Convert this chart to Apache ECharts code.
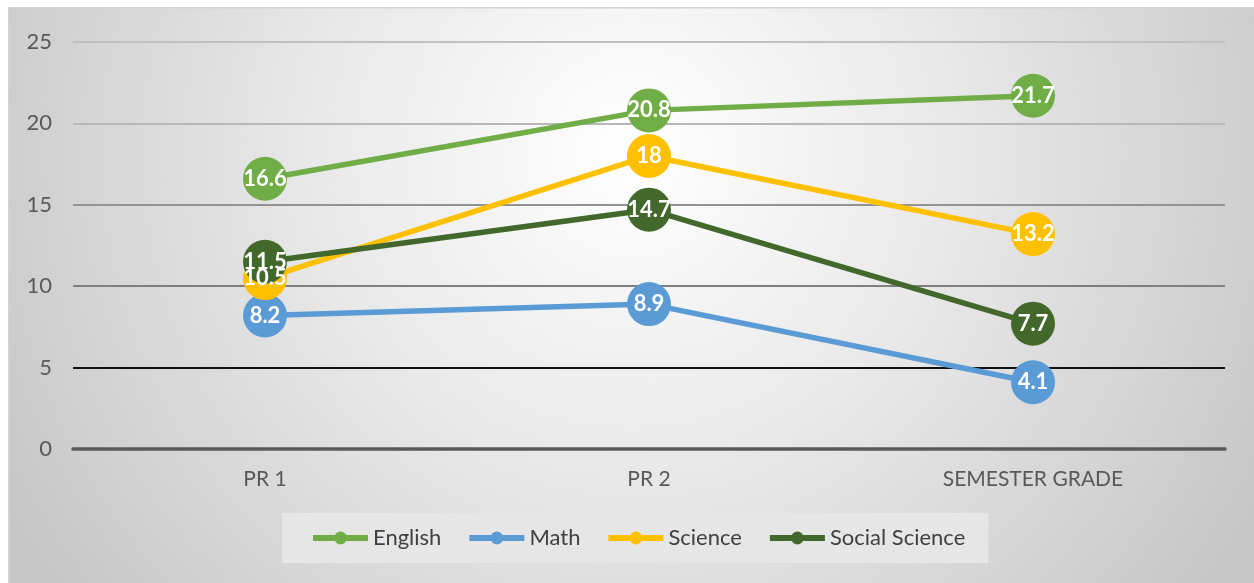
<!DOCTYPE html>
<html>
<head>
<meta charset="utf-8">
<script src="https://cdn.jsdelivr.net/npm/echarts@6/dist/echarts.min.js"></script>
<style>
html,body{margin:0;padding:0;background:#fff;}
#chart{width:1254px;height:583px;}
</style>
</head>
<body>
<div id="chart"></div>
<script>
const categories = ['PR 1', 'PR 2', 'SEMESTER GRADE'];
const english = [16.6, 20.8, 21.7];
const math = [8.2, 8.9, 4.1];
const science = [10.5, 18, 13.2];
const socialScience = [11.5, 14.7, 7.7];
const seriesNames = ['English', 'Math', 'Science', 'Social Science'];
const seriesColors = ['#70AD47', '#5B9BD5', '#FFC000', '#43682B'];
const seriesData = [english, math, science, socialScience];

const FONT = 'Lato';
const chart = echarts.init(document.getElementById('chart'), null, {renderer: 'canvas'});

const series = seriesNames.map((name, i) => ({
  name: name,
  type: 'line',
  data: seriesData[i],
  symbol: 'circle',
  symbolSize: 44,
  lineStyle: {width: 5.5, color: seriesColors[i]},
  itemStyle: {color: seriesColors[i]},
  label: {
    show: true,
    position: 'inside',
    color: '#fff',
    fontFamily: FONT,
    fontWeight: 'bold',
    fontSize: 22
  },
  emphasis: {disabled: true},
  animation: false
}));

chart.setOption({
  backgroundColor: '#ffffff',
  animation: false,
  graphic: [{
    type: 'rect',
    z: -10,
    left: 8, top: 7,
    shape: {width: 1246, height: 576},
    style: {
      fill: new echarts.graphic.RadialGradient(0.5, 0.25, 1.25, [
        {offset: 0, color: '#ffffff'},
        {offset: 0.45, color: '#e8e8e8'},
        {offset: 1, color: '#c6c6c6'}
      ]),
      stroke: '#d4d4d4',
      lineWidth: 1.5
    }
  }],
  grid: {left: 73, right: 29, top: 42, bottom: 134, containLabel: false},
  xAxis: {
    type: 'category',
    data: categories,
    boundaryGap: true,
    axisLine: {show: true, lineStyle: {color: '#595959', width: 3.5}},
    axisTick: {show: false},
    axisLabel: {color: '#595959', fontFamily: FONT, fontSize: 21, margin: 20},
    splitLine: {show: false}
  },
  yAxis: {
    type: 'value',
    min: 0, max: 25, interval: 5,
    axisLine: {show: false},
    axisTick: {show: false},
    axisLabel: {color: '#595959', fontFamily: FONT, fontSize: 22, margin: 21},
    splitLine: {show: true, lineStyle: {color: ['#595959', '#111111', '#7f7f7f', '#939393', '#b8b8b8', '#c0c0c0'], width: 2}}
  },
  legend: {
    data: seriesNames,
    bottom: 20,
    left: 282,
    itemWidth: 55,
    itemHeight: 16,
    itemGap: 25,
    padding: [14, 23, 14, 28],
    backgroundColor: '#e6e6e6',
    lineStyle: {width: 6},
    textStyle: {color: '#404040', fontFamily: FONT, fontSize: 22}
  },
  series: series
});
</script>
</body>
</html>
